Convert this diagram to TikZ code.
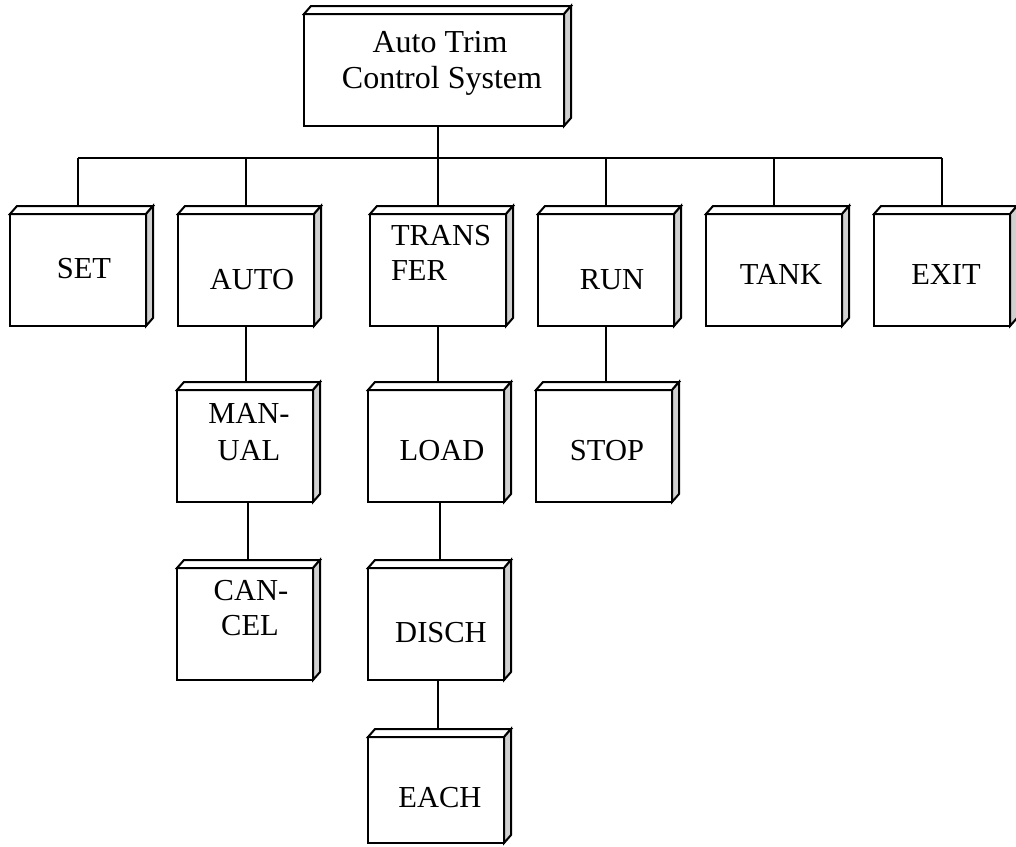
\documentclass[tikz,border=0pt]{standalone}
\usepackage{fontspec}
\setmainfont{Liberation Serif}
\definecolor{sidegray}{RGB}{208,208,208}
\begin{document}
\begin{tikzpicture}[x=1pt,y=-1pt,line width=2pt,line join=miter,
  boxfront/.style={draw,fill=white,minimum width=136pt,minimum height=112pt,inner sep=0pt,outer sep=0pt},
  topbox/.style={boxfront,minimum width=260pt,minimum height=112pt},
  lbl/.style={anchor=base,inner sep=0pt,font=\fontsize{30.5}{36}\selectfont},
  toplbl/.style={lbl,font=\fontsize{32}{36}\selectfont},
  topface/.style={draw,fill=white},
  sideface/.style={draw,fill=sidegray}]
\useasboundingbox (0,0) rectangle (1016,846);

% boxes
\node[topbox] (top) at (434,70) {};
\node[boxfront] (set) at (78,270) {};
\node[boxfront] (auto) at (246,270) {};
\node[boxfront] (transfer) at (438,270) {};
\node[boxfront] (run) at (606,270) {};
\node[boxfront] (tank) at (774,270) {};
\node[boxfront] (exit) at (942,270) {};
\node[boxfront] (manual) at (245,446) {};
\node[boxfront] (load) at (436,446) {};
\node[boxfront] (stop) at (604,446) {};
\node[boxfront] (cancel) at (245,624) {};
\node[boxfront] (disch) at (436,624) {};
\node[boxfront,minimum height=106pt] (each) at (436,790) {};

% 3D faces
\foreach \n in {top,set,auto,transfer,run,tank,exit,manual,load,stop,cancel,disch,each}{
  \draw[topface] (\n.north west) -- ([shift={(7pt,8pt)}]\n.north west) -- ([shift={(7pt,8pt)}]\n.north east) -- (\n.north east) -- cycle;
  \draw[sideface] (\n.north east) -- ([shift={(7pt,8pt)}]\n.north east) -- ([shift={(7pt,8pt)}]\n.south east) -- (\n.south east) -- cycle;
}

% labels
\node[toplbl] (ltop1) at (440,52) {Auto Trim};
\node[toplbl] (ltop2) at (442,88) {Control System};
\node[lbl] (lset) at (84,278) {SET};
\node[lbl] (lauto) at (252,289) {AUTO};
\node[lbl,anchor=base west] (ltr1) at (390,245) {TRANS};
\node[lbl,anchor=base west] (ltr2) at (390,280) {FER};
\node[lbl] (lrun) at (612,289) {RUN};
\node[lbl] (ltank) at (781,284) {TANK};
\node[lbl] (lexit) at (946,284) {EXIT};
\node[lbl] (lman1) at (249,423) {MAN-};
\node[lbl] (lman2) at (249,460) {UAL};
\node[lbl] (lload) at (442,460) {LOAD};
\node[lbl] (lstop) at (607,460) {STOP};
\node[lbl] (lcan1) at (251,600) {CAN-};
\node[lbl] (lcan2) at (250,635) {CEL};
\node[lbl] (ldisch) at (441,642) {DISCH};
\node[lbl] (leach) at (440,807) {EACH};

% connectors
\coordinate (bus) at (0,158);
\draw ([xshift=4pt]top.south) -- ([xshift=4pt]top.south |- bus);
\draw (set.north |- bus) -- (exit.north |- bus);
\foreach \n in {set,auto,transfer,run,tank,exit}{
  \draw (\n.north |- bus) -- ([yshift=8pt]\n.north);
}
\draw (auto.south) -- ([yshift=8pt]auto.south |- manual.north);
\draw ([xshift=3pt]manual.south) -- ([xshift=3pt,yshift=8pt]manual.south |- cancel.north);
\draw (transfer.south) -- ([yshift=8pt]transfer.south |- load.north);
\draw ([xshift=4pt]load.south) -- ([xshift=4pt,yshift=8pt]load.south |- disch.north);
\draw ([xshift=2pt]disch.south) -- ([xshift=2pt,yshift=8pt]disch.south |- each.north);
\draw (run.south) -- ([yshift=8pt]run.south |- stop.north);
\end{tikzpicture}
\end{document}
